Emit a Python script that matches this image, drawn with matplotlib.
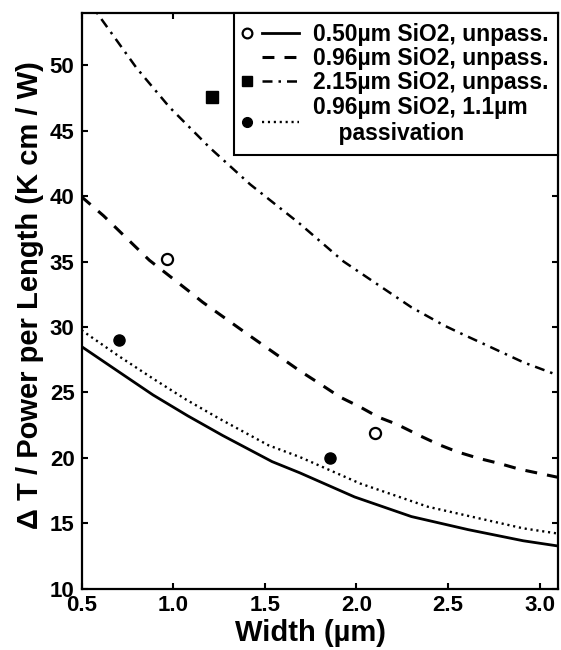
import matplotlib
matplotlib.use("Agg")
import matplotlib.pyplot as plt
from matplotlib.lines import Line2D
from matplotlib.legend_handler import HandlerBase

plt.rcParams['font.family'] = ['Liberation Sans', 'DejaVu Sans']
plt.rcParams['font.weight'] = 'bold'

# ---- data ----
w_solid = [0.5, 0.70, 0.89, 1.08, 1.27, 1.54, 1.69, 1.99, 2.30, 2.61, 2.91, 3.1]
t_solid = [28.5, 26.6, 24.8, 23.2, 21.7, 19.7, 18.85, 17.0, 15.5, 14.5, 13.65, 13.25]

w_dot = [0.5, 0.70, 0.89, 1.07, 1.25, 1.52, 1.69, 2.02, 2.39, 2.91, 3.1]
t_dot = [29.75, 27.8, 26.05, 24.45, 23.0, 20.95, 20.06, 18.03, 16.25, 14.6, 14.2]

w_dash = [0.5, 0.62, 0.87, 1.08, 1.16, 1.40, 1.69, 1.80, 1.91, 2.02, 2.12,
          2.22, 2.36, 2.45, 2.55, 2.67, 2.78, 2.89, 3.1]
t_dash = [39.95, 38.5, 35.1, 32.8, 31.9, 29.5, 26.65, 25.66, 24.64, 23.88, 23.1,
          22.56, 21.59, 21.0, 20.45, 19.94, 19.56, 19.12, 18.5]

w_dd = [0.5, 0.60, 0.80, 0.98, 1.20, 1.42, 1.69, 1.93, 2.30, 2.48, 2.57, 2.71, 2.91, 3.1]
t_dd = [55.7, 53.7, 49.8, 46.8, 43.7, 40.9, 37.9, 35.0, 31.5, 30.1, 29.5, 28.6, 27.3, 26.3]

w_open = [0.967, 2.102]
t_open = [35.2, 21.9]
w_square = [1.212]
t_square = [47.6]
w_filled = [0.707, 1.857]
t_filled = [29.0, 20.0]

labels = ["0.50\u00b5m SiO2, unpass.",
          "0.96\u00b5m SiO2, unpass.",
          "2.15\u00b5m SiO2, unpass.",
          "0.96\u00b5m SiO2, 1.1\u00b5m\n    passivation"]

xticks = [0.5, 1.0, 1.5, 2.0, 2.5, 3.0]
yticks = [10, 15, 20, 25, 30, 35, 40, 45, 50]

# ---- figure ----
fig = plt.figure(figsize=(5.61, 6.5), dpi=100)
ax = fig.add_axes([0.1453, 0.0946, 0.8494, 0.8854])

ls_dash = (0, (3.9, 3.3))
ls_dot = (0, (0.9, 1.6))
ls_dd = (0, (4.0, 2.4, 1.0, 2.4))

l_solid, = ax.plot(w_solid, t_solid, color='black', lw=2.0, ls='-')
l_dash, = ax.plot(w_dash, t_dash, color='black', lw=2.2, ls=ls_dash)
l_dd, = ax.plot(w_dd, t_dd, color='black', lw=1.8, ls=ls_dd)
l_dot, = ax.plot(w_dot, t_dot, color='black', lw=1.7, ls=ls_dot)

m_open, = ax.plot(w_open, t_open, ls='none', marker='o', ms=8, mfc='white',
                  mec='black', mew=1.6)
m_sq, = ax.plot(w_square, t_square, ls='none', marker='s', ms=8, mfc='black', mec='black')
m_fill, = ax.plot(w_filled, t_filled, ls='none', marker='o', ms=8, mfc='black', mec='black')

ax.set_xlim(0.5, 3.1)
ax.set_ylim(10, 54)
ax.set_xticks(xticks)
ax.set_xticklabels([f"{v:.1f}" for v in xticks])
ax.set_yticks(yticks)
ax.set_yticklabels([str(v) for v in yticks])
ax.tick_params(direction='in', length=4, width=1.5, top=True, right=True,
               labelsize=16, pad=5)
for lab in ax.get_xticklabels() + ax.get_yticklabels():
    lab.set_fontweight('bold')
for s in ax.spines.values():
    s.set_linewidth(1.6)

ax.set_xlabel("Width (\u00b5m)", fontsize=21, fontweight='bold')
ax.set_ylabel("\u0394 T / Power per Length (K cm / W)", fontsize=21, fontweight='bold')
ax.xaxis.set_label_coords(0.48, -0.053)
ax.yaxis.set_label_coords(-0.079, 0.51)


class MarkLine(HandlerBase):
    def create_artists(self, legend, orig_handle, xdescent, ydescent, width,
                       height, fontsize, trans):
        mk, ln = orig_handle
        y = height / 2 - ydescent
        arts = []
        line = Line2D([-xdescent + 0.34 * width, -xdescent + width], [y, y],
                      color='black', lw=ln.get_linewidth())
        if ln.get_linestyle() != '-':
            line.set_linestyle(ln._unscaled_dash_pattern)
        line.set_transform(trans)
        arts.append(line)
        if mk is not None:
            m = Line2D([-xdescent + 0.07 * width], [y], ls='none', marker=mk.get_marker(),
                       ms=7, mfc=mk.get_markerfacecolor(), mec='black',
                       mew=mk.get_markeredgewidth())
            m.set_transform(trans)
            arts.append(m)
        return arts


handles = [(m_open, l_solid), (None, l_dash), (m_sq, l_dd), (m_fill, l_dot)]
leg = ax.legend(handles, labels, handler_map={tuple: MarkLine()},
                loc='upper right', borderaxespad=0,
                prop={'weight': 'bold', 'size': 16.5},
                handlelength=2.4, handletextpad=0.62, labelspacing=0.06,
                borderpad=0.42, fancybox=False, framealpha=1, edgecolor='black')
leg.get_frame().set_linewidth(1.5)
for t in leg.get_texts():
    t.set_linespacing(1.2)

fig.savefig("out.png", dpi=100)
